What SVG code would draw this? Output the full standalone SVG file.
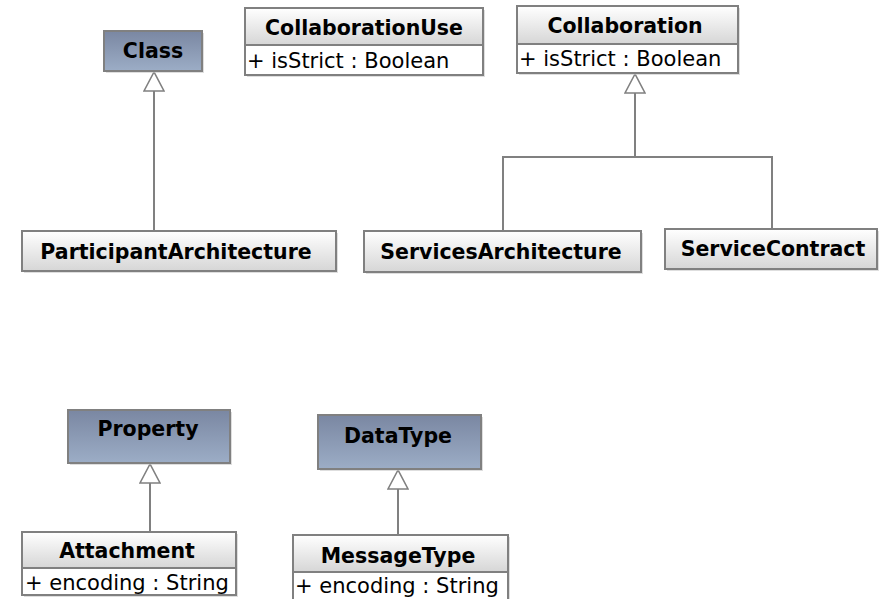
<svg xmlns="http://www.w3.org/2000/svg" width="879" height="599" viewBox="0 0 879 599">
<defs>
<linearGradient id="gBlue" x1="0" y1="0" x2="0" y2="1"><stop offset="0" stop-color="#7a87a2"/><stop offset="1" stop-color="#9cadc6"/></linearGradient>
<linearGradient id="gGrey" x1="0" y1="0" x2="0" y2="1"><stop offset="0" stop-color="#ffffff"/><stop offset="1" stop-color="#d6d6d6"/></linearGradient>
<marker id="gen" markerWidth="22" markerHeight="22" refX="20" refY="11" orient="auto" markerUnits="userSpaceOnUse" viewBox="0 0 22 22">
<path d="M20,11 L1,1 L1,21 Z" fill="#fff" stroke="#808080" stroke-width="1.6"/>
</marker>
</defs>
<style>
.sh{fill:#c8c8c8;opacity:0.6}
.box{stroke:#808080;stroke-width:2}
.blue{fill:url(#gBlue)}
.grey{fill:url(#gGrey)}
.attr{fill:#fff;stroke:#808080;stroke-width:2}
.t{font-family:"DejaVu Sans",Verdana,sans-serif;font-weight:bold;font-size:20.5px;fill:#000;text-anchor:middle}
.a{font-family:"DejaVu Sans",Verdana,sans-serif;font-size:21px;fill:#000}
.c{fill:none;stroke:#808080;stroke-width:2}
</style>
<rect width="879" height="599" fill="#fff"/>
<g id="connectors">
<path class="c" d="M154,231 V72" marker-end="url(#gen)"/>
<path class="c" d="M503,231 V157 H772 V229" />
<path class="c" d="M635,157 V74" marker-end="url(#gen)"/>
<path class="c" d="M150,532 V464" marker-end="url(#gen)"/>
<path class="c" d="M398,535 V470" marker-end="url(#gen)"/>
</g>
<g id="Class">
<rect class="sh" x="106" y="33" width="98" height="40"/>
<rect class="box blue" x="104" y="31" width="98" height="40"/>
<text class="t" x="153" y="58">Class</text>
</g>
<g id="CollaborationUse">
<rect class="sh" x="247" y="10" width="238" height="67"/>
<rect class="box grey" x="245" y="8" width="238" height="37"/>
<rect class="attr" x="245" y="45" width="238" height="30"/>
<text class="t" x="364" y="35">CollaborationUse</text>
<text class="a" x="247" y="68">+ isStrict : Boolean</text>
</g>
<g id="Collaboration">
<rect class="sh" x="519" y="8" width="221" height="67"/>
<rect class="box grey" x="517" y="6" width="221" height="38"/>
<rect class="attr" x="517" y="44" width="221" height="29"/>
<text class="t" x="625" y="33">Collaboration</text>
<text class="a" x="519" y="66">+ isStrict : Boolean</text>
</g>
<g id="ParticipantArchitecture">
<rect class="sh" x="24" y="233" width="314" height="40"/>
<rect class="box grey" x="22" y="231" width="314" height="40"/>
<text class="t" x="176" y="259">ParticipantArchitecture</text>
</g>
<g id="ServicesArchitecture">
<rect class="sh" x="366" y="233" width="277" height="41"/>
<rect class="box grey" x="364" y="231" width="277" height="41"/>
<text class="t" x="501" y="259">ServicesArchitecture</text>
</g>
<g id="ServiceContract">
<rect class="sh" x="667" y="231" width="212" height="40"/>
<rect class="box grey" x="665" y="229" width="212" height="40"/>
<text class="t" x="773" y="256">ServiceContract</text>
</g>
<g id="Property">
<rect class="sh" x="70" y="412" width="162" height="53"/>
<rect class="box blue" x="68" y="410" width="162" height="53"/>
<text class="t" x="148" y="436">Property</text>
</g>
<g id="Attachment">
<rect class="sh" x="24" y="534" width="214" height="63"/>
<rect class="box grey" x="22" y="532" width="214" height="36"/>
<rect class="attr" x="22" y="568" width="214" height="27"/>
<text class="t" x="127" y="558">Attachment</text>
<text class="a" x="25" y="590">+ encoding : String</text>
</g>
<g id="DataType">
<rect class="sh" x="320" y="417" width="163" height="54"/>
<rect class="box blue" x="318" y="415" width="163" height="54"/>
<text class="t" x="398" y="443">DataType</text>
</g>
<g id="MessageType">
<rect class="sh" x="295" y="537" width="215" height="64"/>
<rect class="box grey" x="293" y="535" width="215" height="37"/>
<rect class="attr" x="293" y="572" width="215" height="30"/>
<text class="t" x="398" y="563">MessageType</text>
<text class="a" x="295" y="593">+ encoding : String</text>
</g>
</svg>
